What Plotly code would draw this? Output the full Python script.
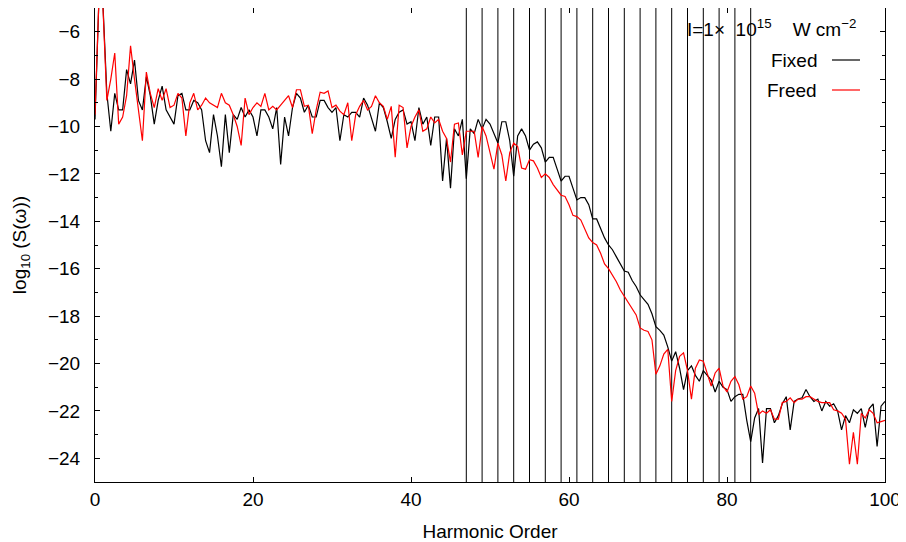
import numpy as np
import plotly.graph_objects as go

# Harmonic-order grid (0 to 100, step 0.5)
harmonic = [i * 0.5 for i in range(201)]

# log10 S(omega), "Fixed" (black)
fixed_logS = [
    -9.7, -4.6, -4.8, -8.6, -10.2, -8.6, -9.3, -9.3, -7.6, -8.2, -7.2, -8.9, -9.3, -7.9, -8.7, -9.9, -8.9, -8.3, -9.3, -9.6,
    -9.9, -8.7, -8.6, -9.3, -9.3, -8.9, -9.0, -9.3, -10.6, -11.1, -9.5, -10.4, -11.7, -9.5, -11.1, -9.5, -9.7, -9.2, -9.6, -9.3,
    -9.6, -10.4, -9.3, -9.3, -9.6, -10.1, -9.2, -11.6, -9.6, -10.4, -9.2, -8.6, -8.8, -9.4, -9.1, -9.6, -9.6, -8.9, -8.9, -9.2,
    -9.4, -9.2, -10.6, -9.5, -9.6, -9.4, -9.4, -9.6, -8.8, -9.1, -9.6, -10.2, -9.0, -9.2, -9.8, -10.5, -9.7, -9.4, -9.3, -9.9,
    -9.8, -10.6, -9.2, -9.9, -9.6, -10.8, -9.6, -9.6, -12.3, -10.5, -12.6, -10.1, -10.4, -9.7, -12.2, -10.1, -10.3, -9.7, -10.1, -9.7,
    -9.9, -10.3, -10.7, -9.8, -9.8, -10.6, -12.1, -10.4, -10.1, -10.4, -11.0, -10.75, -10.65, -10.9, -11.5, -11.3, -11.3, -11.8, -12.3, -12.1,
    -12.1, -12.6, -13.1, -13.0, -13.0, -13.3, -13.9, -13.9, -14.3, -14.7, -15.0, -15.2, -15.5, -15.8, -16.1, -16.15, -16.5, -16.75, -17.1, -17.3,
    -17.5, -17.9, -18.45, -18.6, -18.8, -19.3, -19.9, -19.5, -20.2, -21.1, -20.3, -20.1, -20.5, -20.75, -20.3, -20.5, -20.7, -21.2, -20.75, -21.0,
    -21.1, -21.6, -21.4, -21.3, -21.3, -22.4, -23.3, -22.3, -21.9, -24.2, -21.9, -21.9, -22.5, -22.2, -21.7, -21.4, -22.8, -21.6, -21.5, -21.45,
    -21.1, -21.4, -21.6, -21.5, -22.0, -21.6, -21.8, -21.7, -22.0, -22.8, -22.2, -22.5, -21.95, -22.1, -21.9, -22.7, -21.9, -21.7, -23.5, -21.8,
    -21.6,
]

# log10 S(omega), "Freed" (red)
freed_logS = [
    -9.5, -4.6, -4.9, -8.9, -8.0, -6.9, -9.9, -9.6, -8.7, -6.6, -8.0, -9.2, -10.6, -7.7, -8.6, -9.2, -8.4, -8.9, -8.4, -9.2,
    -9.1, -8.6, -8.8, -10.4, -9.0, -8.6, -9.3, -9.1, -8.8, -9.0, -9.1, -9.2, -8.6, -9.0, -9.1, -9.5, -10.0, -10.8, -8.8, -9.5,
    -9.2, -9.0, -9.15, -8.6, -9.3, -9.15, -9.3, -9.1, -8.9, -8.7, -9.2, -8.45, -8.45, -9.15, -9.1, -10.3, -9.3, -8.55, -8.6, -8.5,
    -9.2, -9.1, -9.35, -9.5, -9.0, -10.6, -9.5, -9.15, -8.9, -9.3, -9.15, -8.7, -9.0, -9.15, -9.7, -9.15, -11.3, -9.1, -9.2, -10.9,
    -10.0, -9.6, -9.3, -10.2, -10.1, -9.6, -9.85, -9.7, -10.2, -10.5, -11.5, -9.9, -9.85, -11.2, -10.2, -10.2, -10.2, -11.3, -10.0, -10.4,
    -11.1, -11.8, -10.7, -11.2, -12.3, -11.1, -10.7, -10.85, -11.75, -11.8, -11.4, -11.45, -11.75, -12.15, -12.0, -12.15, -12.45, -12.7, -12.9, -12.95,
    -13.3, -13.75, -13.8, -13.95, -14.3, -14.7, -14.9, -15.0, -15.35, -15.8, -16.0, -16.25, -16.55, -16.9, -17.15, -17.45, -17.65, -17.95, -18.5, -18.6,
    -18.65, -19.0, -20.45, -20.1, -19.6, -19.4, -21.6, -20.3, -19.7, -19.55, -20.3, -21.5, -20.2, -19.85, -19.9, -20.4, -20.95, -20.4, -20.2, -20.95,
    -21.2, -20.75, -20.55, -20.9, -21.5, -21.4, -20.95, -21.25, -22.15, -22.0, -22.1, -21.95, -22.35, -22.35, -21.65, -21.6, -21.45, -21.65, -21.5, -21.5,
    -21.4, -21.4, -21.5, -21.6, -21.65, -21.65, -21.65, -21.95, -22.0, -22.1, -22.35, -24.25, -22.9, -24.25, -22.1, -22.3, -21.95, -22.1, -22.5, -22.45,
    -22.4,
]

# Vertical marker lines at odd harmonics
marker_harmonics = [47, 49, 51, 53, 55, 57, 59, 61, 63, 65, 67, 69, 71, 73, 75, 77, 79, 81, 83]

x_range = [0, 100]
y_range = [-25, -5]
x_ticks = [0, 20, 40, 60, 80, 100]
y_ticks = [-24, -22, -20, -18, -16, -14, -12, -10, -8, -6]

FONT = "Liberation Sans, Arial, sans-serif"

fig = go.Figure()

# vertical lines built from the marker list
vx, vy = [], []
for h in marker_harmonics:
    vx += [h, h, None]
    vy += [y_range[0], y_range[1], None]
fig.add_trace(go.Scatter(x=vx, y=vy, mode="lines",
                         line=dict(color="black", width=1),
                         showlegend=False, hoverinfo="skip"))

fig.add_trace(go.Scatter(x=harmonic, y=fixed_logS, mode="lines", name="Fixed",
                         line=dict(color="black", width=1.2), showlegend=False))
fig.add_trace(go.Scatter(x=harmonic, y=freed_logS, mode="lines", name="Freed",
                         line=dict(color="#ff0000", width=1.2), showlegend=False))

# the page has an 8px body margin, so the figure is 8px smaller than the window
OFF = 8
W, H = 898, 534
L, R, T, B = 87, 21, 0, 60
pw, ph = W - L - R, H - T - B


def px(xs):
    # screen x (px) -> paper fraction
    return (xs - OFF - L) / pw


def py(ys):
    # screen y (px) -> paper fraction
    return (OFF + T + ph - ys) / ph


fig.update_layout(
    width=W, height=H,
    margin=dict(l=L, r=R, t=T, b=B, autoexpand=False),
    paper_bgcolor="white", plot_bgcolor="white",
    font=dict(family=FONT, size=19, color="black"),
    showlegend=False,
    xaxis=dict(range=x_range, tickvals=x_ticks, ticks="inside", ticklen=5,
               tickcolor="black", showline=True, linecolor="black", linewidth=1,
               mirror="ticks", showgrid=False, zeroline=False, automargin=False,
               tickfont=dict(size=19), ticklabelstandoff=0,
               title=dict(text="Harmonic Order", font=dict(size=19), standoff=16)),
    yaxis=dict(range=y_range, tickvals=y_ticks, ticks="inside", ticklen=5,
               tickcolor="black", showline=True, linecolor="black", linewidth=1,
               mirror="ticks", showgrid=False, zeroline=False, automargin=False,
               minor=dict(dtick=1, tick0=-25, ticks="inside", ticklen=3, tickcolor="black"),
               tickfont=dict(size=19), ticklabelstandoff=10,
               title=dict(text="log<sub>10</sub> (S(ω))", font=dict(size=19), standoff=16)),
)

# key (gnuplot style: text right-aligned, sample on the right)
fig.add_annotation(x=px(858), y=py(28), xref="paper", yref="paper",
                   text="I=1×&nbsp;&nbsp;10<sup>15</sup>&nbsp;&nbsp;&nbsp;&nbsp;W&nbsp;cm<sup>−2</sup>",
                   showarrow=False, xanchor="right", yanchor="middle", font=dict(size=19))
fig.add_annotation(x=px(819), y=py(60), xref="paper", yref="paper",
                   text="Fixed", showarrow=False, xanchor="right", yanchor="middle",
                   font=dict(size=19))
fig.add_annotation(x=px(819), y=py(90), xref="paper", yref="paper",
                   text="Freed", showarrow=False, xanchor="right", yanchor="middle",
                   font=dict(size=19))
fig.add_shape(type="line", xref="paper", yref="paper", x0=px(832), x1=px(860),
              y0=py(60), y1=py(60), line=dict(color="black", width=1.2))
fig.add_shape(type="line", xref="paper", yref="paper", x0=px(832), x1=px(860),
              y0=py(90), y1=py(90), line=dict(color="#ff0000", width=1.2))

fig.write_html("out.html")
